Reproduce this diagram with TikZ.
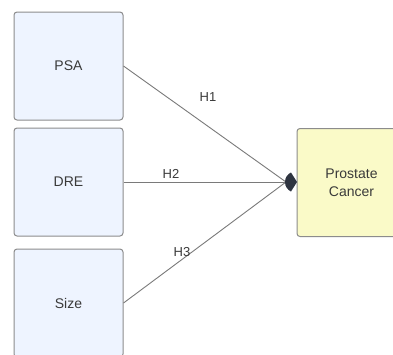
\documentclass[tikz,border=0pt]{standalone}
\usepackage{fontspec}
\setmainfont{Liberation Sans}
\definecolor{txt}{HTML}{3A3A3A}
\definecolor{bfill}{HTML}{EEF4FF}
\definecolor{yfill}{HTML}{FAFAC8}
\definecolor{bord}{HTML}{8C8C8C}
\definecolor{conn}{HTML}{7A7A7A}
\definecolor{head}{HTML}{2E3440}
\begin{document}
\begin{tikzpicture}[x=1pt,y=-1pt,
  box/.style={draw=bord, line width=1pt, rounded corners=3pt, fill=bfill,
    minimum width=109pt, minimum height=108pt, inner sep=0pt,
    font=\fontsize{14}{18}\selectfont, text=txt, align=center},
  ybox/.style={box, fill=yfill},
  conline/.style={draw=conn, line width=0.9pt},
  lab/.style={font=\fontsize{13}{15}\selectfont, text=txt, inner sep=0pt}]
\useasboundingbox (0,0) rectangle (393,354);
\clip (0,0) rectangle (393,354);
\fill[white] (0,0) rectangle (393,354);
\node[box] (psa) at (68.5,66) {PSA};
\node[box] (dre) at (68.5,182) {DRE};
\node[box] (size) at (68.5,303) {Size};
\node[ybox] (pc) at (351.5,182.5) {Prostate\\Cancer};
\coordinate (tip) at (286,182);
\draw[conline] (psa.east) -- (tip);
\draw[conline] (dre.east) -- (tip);
\draw[conline] (size.east) -- (tip);
\fill[head] (285,182) .. controls (285,177) and (288,174) .. (291,172.5)
  -- (297,182) -- (291,191.5) .. controls (288,190) and (285,187) .. (285,182) -- cycle;
\node[lab] (h1) at (208,97) {H1};
\node[lab] (h2) at (171,174) {H2};
\node[lab] (h3) at (182,252) {H3};
\end{tikzpicture}
\end{document}
